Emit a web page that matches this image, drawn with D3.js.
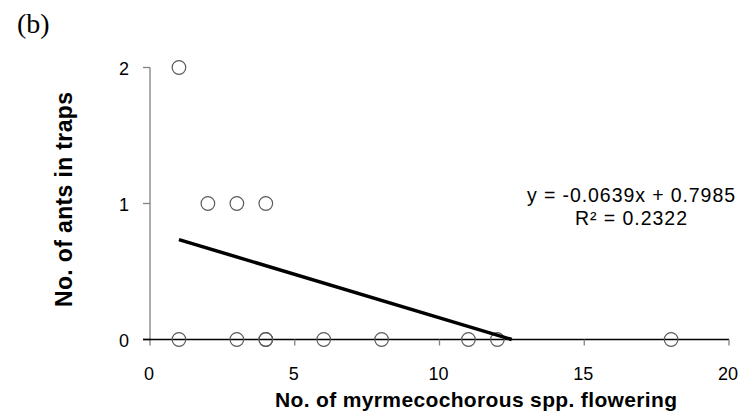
<!DOCTYPE html>
<html lang="en">
<head>
<meta charset="utf-8">
<style>
  body { margin: 0; background: white; }
  svg { display: block; font-family: "Liberation Sans", Arial, sans-serif; }
  .tick-label { font-size: 18px; fill: #000; }
  .eq { font-size: 19.5px; fill: #000; }
  .axis-title { font-weight: bold; fill: #000; }
  .pt { fill: none; stroke: #5a5a5a; stroke-width: 1.2px; }
  .trend { stroke: #000; stroke-width: 3.5px; fill: none; }
</style>
<script src="https://d3js.org/d3.v7.min.js"></script>
</head>
<body>
<script>
// values (x = spp. flowering, y = ants in traps)
var xs = [1, 2, 3, 4, 1, 3, 4, 4, 6, 8, 11, 12, 18];
var ys = [2, 1, 1, 1, 0, 0, 0, 0, 0, 0, 0, 0, 0];
var xTicks = [0, 5, 10, 15, 20];
var yTicks = [0, 1, 2];
var slope = -0.0639, intercept = 0.7985;
var eqText = ["y = -0.0639x + 0.7985", "R\u00b2 = 0.2322"];

var width = 750, height = 418;

var svg = d3.select("body").append("svg")
  .attr("width", width)
  .attr("height", height);

var x = d3.scaleLinear().domain([0, 20]).range([150, 729]);
var y = d3.scaleLinear().domain([0, 2]).range([339.5, 67.5]);

// panel letter
svg.append("text")
  .attr("x", 17).attr("y", 33)
  .style("font-family", "'Liberation Serif', 'Times New Roman', serif")
  .style("font-size", "28px")
  .text("(b)");

// y axis (grey)
svg.append("line")
  .attr("x1", x(0)).attr("x2", x(0))
  .attr("y1", y(2)).attr("y2", y(0) + 6)
  .attr("stroke", "#808080").attr("stroke-width", 1.3);

svg.selectAll(".ytick").data(yTicks).enter().append("line")
  .attr("class", "ytick")
  .attr("x1", x(0) - 7).attr("x2", x(0))
  .attr("y1", function(d) { return y(d); })
  .attr("y2", function(d) { return y(d); })
  .attr("stroke", function(d) { return d === 0 ? "#000" : "#808080"; })
  .attr("stroke-width", 1.3);

svg.selectAll(".ylab").data(yTicks).enter().append("text")
  .attr("class", "tick-label")
  .attr("x", 129)
  .attr("y", function(d) { return y(d) + 7.5; })
  .attr("text-anchor", "end")
  .text(function(d) { return d; });

// x axis (black line, grey ticks)
svg.append("line")
  .attr("x1", x(0) - 7).attr("x2", x(20))
  .attr("y1", y(0)).attr("y2", y(0))
  .attr("stroke", "#000").attr("stroke-width", 1.3);

svg.selectAll(".xtick").data(xTicks.slice(1)).enter().append("line")
  .attr("class", "xtick")
  .attr("x1", function(d) { return x(d); })
  .attr("x2", function(d) { return x(d); })
  .attr("y1", y(0)).attr("y2", y(0) + 6)
  .attr("stroke", "#808080").attr("stroke-width", 1.3);

svg.selectAll(".xlab").data(xTicks).enter().append("text")
  .attr("class", "tick-label")
  .attr("x", function(d) { return x(d) - 1; })
  .attr("y", 380)
  .attr("text-anchor", "middle")
  .text(function(d) { return d; });

// axis titles
svg.append("text")
  .attr("class", "axis-title")
  .style("font-size", "21px")
  .attr("x", 275).attr("y", 407)
  .attr("textLength", 402)
  .attr("lengthAdjust", "spacing")
  .text("No. of myrmecochorous spp. flowering");

svg.append("text")
  .attr("class", "axis-title")
  .style("font-size", "23px")
  .attr("transform", "translate(72,307) rotate(-90)")
  .attr("textLength", 215)
  .attr("lengthAdjust", "spacing")
  .text("No. of ants in traps");

// points
svg.selectAll(".pt").data(xs).enter().append("circle")
  .attr("class", "pt")
  .attr("cx", function(d) { return x(d); })
  .attr("cy", function(d, i) { return y(ys[i]); })
  .attr("r", 6.8);

// linear trend from min x to where it meets zero
var x0 = d3.min(xs), x1 = -intercept / slope;
svg.append("line")
  .attr("class", "trend")
  .attr("x1", x(x0)).attr("y1", y(slope * x0 + intercept))
  .attr("x2", x(x1)).attr("y2", y(slope * x1 + intercept));

// equation
var eqLen = [208, 112];
svg.selectAll(".eq").data(eqText).enter().append("text")
  .attr("class", "eq")
  .attr("x", function(d, i) { return 631 - eqLen[i] / 2; })
  .attr("y", function(d, i) { return 201.5 + i * 23.5; })
  .attr("textLength", function(d, i) { return eqLen[i]; })
  .attr("lengthAdjust", "spacing")
  .text(function(d) { return d; });
</script>
</body>
</html>
